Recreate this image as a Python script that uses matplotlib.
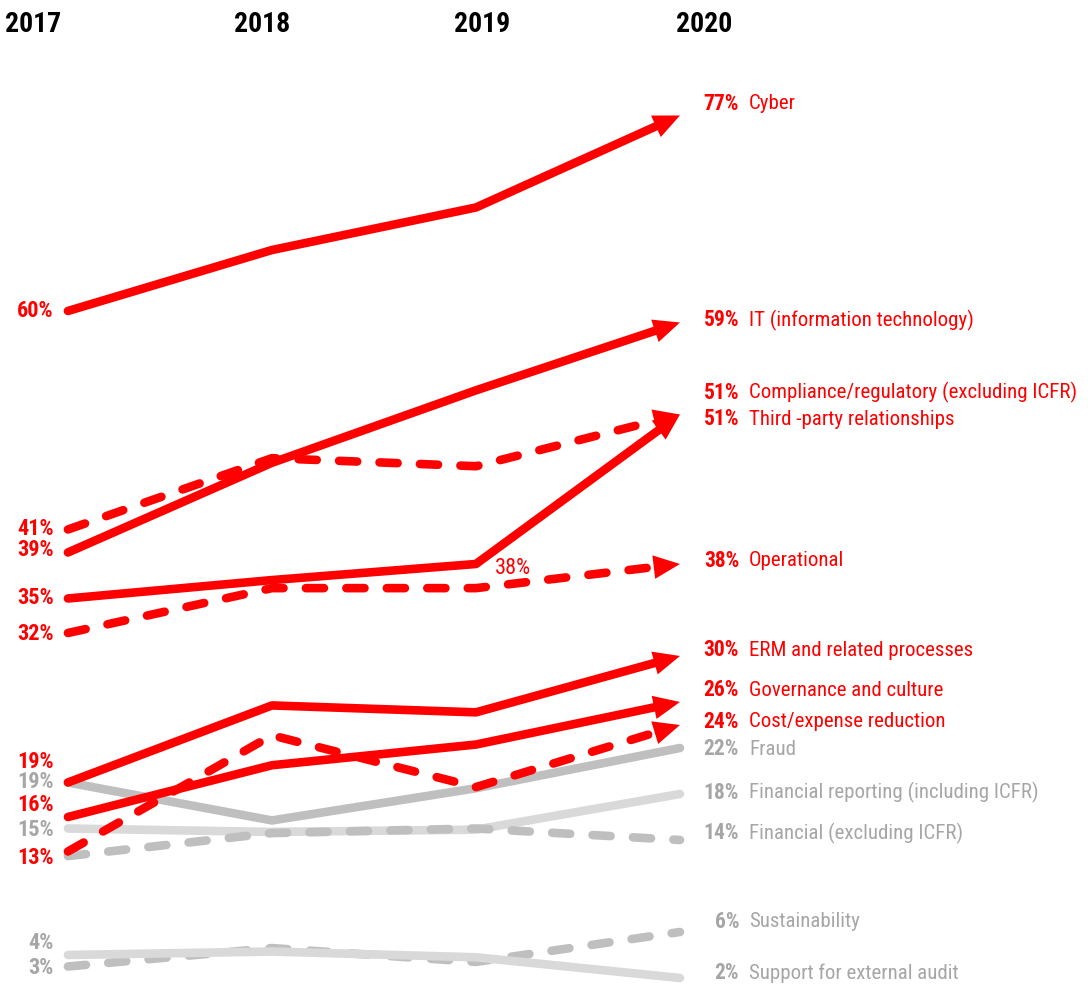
import numpy as np
import matplotlib
matplotlib.use('Agg')
import matplotlib.pyplot as plt
from matplotlib import font_manager
from matplotlib.patches import FancyArrowPatch

years = [2017, 2018, 2019, 2020]

names = ['Cyber', 'IT (information technology)', 'Compliance/regulatory (excluding ICFR)',
         'Third -party relationships', 'Operational', 'ERM and related processes',
         'Governance and culture', 'Cost/expense reduction', 'Fraud',
         'Financial reporting (including ICFR)', 'Financial (excluding ICFR)',
         'Sustainability', 'Support for external audit']

cyber = [60, 65.3, 69, 77]
it = [39, 46.8, 53.1, 59]
compliance = [41, 47.2, 46.5, 51]
third_party = [35, 36.6, 38, 51]
operational = [32, 35.9, 35.9, 38]
erm = [19, 25.7, 25.1, 30]
governance = [16, 20.5, 22.3, 26]
cost = [13, 23.1, 18.6, 24]
fraud = [19, 15.7, 18.5, 22]
fin_reporting = [15, 14.7, 14.9, 18]
fin_excl = [12.6, 14.6, 15.0, 14]
sustainability = [3, 4.6, 3.4, 6]
ext_audit = [4, 4.3, 3.8, 2]

series = [cyber, it, compliance, third_party, operational, erm, governance, cost,
          fraud, fin_reporting, fin_excl, sustainability, ext_audit]

# which values get a label on the left (None = no label)
left_label = [60, 39, 41, 35, 32, 19, 16, 13, 19, 15, None, 3, 4]

RED = '#ff0000'
GRAY = '#bfbfbf'
LIGHT = '#d9d9d9'
TXT_GRAY = '#a6a6a6'

colors = [RED] * 8 + [GRAY, LIGHT, GRAY, GRAY, LIGHT]
dashed = [False, False, True, False, True, False, False, True,
          False, False, True, True, False]
arrows = [True] * 8 + [False] * 5
text_colors = [RED] * 8 + [TXT_GRAY] * 5

# label nudges so overlapping labels stay readable
right_nudge = [1.0, 0.2, 1.9, -0.4, 0.3, 0.5, 1.0, 0.3, -0.1, 0.1, 0.6, 0.9, 0.4]
left_nudge = [0, 0.2, 0, 0, -0.1, 1.8, 1.0, -0.6, 0, -0.1, 0, -0.1, 1.0]

avail = {f.name for f in font_manager.fontManager.ttflist}
font = 'DejaVu Sans'
for cand in ['Liberation Sans Narrow', 'Roboto Condensed', 'DejaVu Sans Condensed',
             'Open Sans Condensed']:
    if cand in avail:
        font = cand
        break
plt.rcParams['font.family'] = [font, 'DejaVu Sans']

fig = plt.figure(figsize=(10.88, 9.88), dpi=100)
ax = fig.add_axes([0, 0, 1, 1])
ax.set_xlim(2016.667, 2022.0)
ax.set_ylim(1.13, 87.04)
ax.axis('off')

LW = 6.2
HEAD_LEN = 19   # points
HEAD_W = 8.5    # points (half width)
FS = 15
FS_LEFT = 16
px = fig.dpi / 72.0
to_data = ax.transData.inverted()

for i, vals in enumerate(series):
    z = 3 if colors[i] == RED else 2
    style = dict(color=colors[i], lw=LW, zorder=z,
                 solid_capstyle='round', dash_capstyle='round',
                 solid_joinstyle='round', dash_joinstyle='round')
    if dashed[i]:
        style['linestyle'] = (0, (2.1, 2.6))
    pts = ax.transData.transform(np.column_stack([years, vals]))
    if arrows[i]:
        d = pts[-1] - pts[-2]
        u = d / np.hypot(*d)
        base = pts[-1] - u * HEAD_LEN * px * 0.95
        line_pts = pts.copy()
        line_pts[-1] = base
        line_data = to_data.transform(line_pts)
        ax.plot(line_data[:, 0], line_data[:, 1], **style)
        start = to_data.transform(pts[-1] - u * (HEAD_LEN * px + 10))
        head = FancyArrowPatch(posA=tuple(start), posB=(years[-1], vals[-1]),
                               arrowstyle=f'-|>,head_length={HEAD_LEN},head_width={HEAD_W}',
                               mutation_scale=1, lw=0, color=colors[i],
                               shrinkA=0, shrinkB=0, zorder=z)
        ax.add_patch(head)
    else:
        ax.plot(years, vals, **style)

    # right-hand labels
    y = vals[-1] + right_nudge[i]
    ax.text(2020.29, y, f'{vals[-1]:.0f}%', ha='right', va='center',
            fontsize=FS + 0.5, fontweight='bold', color=text_colors[i])
    ax.text(2020.338, y, names[i], ha='left', va='center',
            fontsize=FS, color=text_colors[i])

    # left-hand labels
    if left_label[i] is not None:
        ax.text(2016.93, vals[0] + left_nudge[i], f'{left_label[i]}%',
                ha='right', va='center', fontsize=FS_LEFT, fontweight='bold',
                color=text_colors[i])

# value callout on the third-party 2019 point
ax.text(years[2] + 0.18, third_party[2] - 0.4, f'{third_party[2]}%', ha='center',
        va='center', fontsize=FS_LEFT, color=RED)

# year headers along the top
header_dx = [-0.17, -0.05, 0.03, 0.12]
for yr, dx in zip(years, header_dx):
    ax.text(yr + dx, 84.87, str(yr), ha='center', va='center',
            fontsize=20, fontweight='bold', color='black')

fig.savefig('out.png', dpi=100)
